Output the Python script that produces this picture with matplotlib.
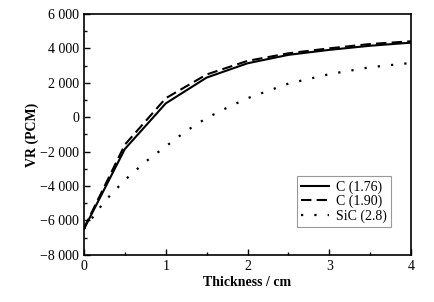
import matplotlib
matplotlib.use('Agg')
import matplotlib.pyplot as plt
from matplotlib.ticker import MultipleLocator, FuncFormatter

plt.rcParams['font.family'] = ['Liberation Serif', 'DejaVu Serif']
plt.rcParams['font.size'] = 10

# Data
thickness = [0, 0.5, 1.0, 1.5, 2.0, 2.5, 3.0, 3.5, 4.0]
vr_c176 = [-6500, -1850, 800, 2300, 3130, 3620, 3910, 4150, 4330]
vr_c190 = [-6450, -1600, 1100, 2480, 3270, 3710, 4000, 4250, 4410]
thickness_sic = [0, 0.25, 0.5, 0.75, 1.0, 1.25, 1.5, 1.75, 2.0, 2.5, 3.0, 3.5, 4.0]
vr_sic = [-6500, -4900, -3650, -2600, -1700, -800, -50, 550, 1100, 1950, 2500, 2900, 3150]

fig = plt.figure(figsize=(4.35, 3.02), dpi=100)
ax = fig.add_axes([0.193, 0.156, 0.752, 0.798])

ax.plot(thickness, vr_c176, color='black', lw=1.5, linestyle='-', label='C (1.76)')
ax.plot(thickness, vr_c190, color='black', lw=1.5, linestyle=(0, (5, 2.5)), label='C (1.90)')
ax.plot(thickness_sic, vr_sic, color='black', lw=1.6, linestyle=(0, (1, 5)), label='SiC (2.8)')

ax.set_xlim(0, 4)
ax.set_ylim(-8000, 6000)
ax.xaxis.set_major_locator(MultipleLocator(1))
ax.xaxis.set_minor_locator(MultipleLocator(0.5))
ax.yaxis.set_major_locator(MultipleLocator(2000))
ax.yaxis.set_minor_locator(MultipleLocator(1000))


def fmt(v, pos):
    s = f'{abs(int(round(v))):,}'.replace(',', ' ')
    return ('\u2212' + s) if v < 0 else s


ax.yaxis.set_major_formatter(FuncFormatter(fmt))
ax.tick_params(which='both', direction='in', top=False, right=False)
ax.tick_params(which='major', length=4, width=1)
ax.tick_params(which='minor', length=2.5, width=1)
for sp in ax.spines.values():
    sp.set_linewidth(1.2)

ax.set_xlabel('Thickness / cm', fontweight='bold', labelpad=2)
ax.set_ylabel('VR (PCM)', fontweight='bold', labelpad=1)

leg = ax.legend(loc='lower right', bbox_to_anchor=(0.96, 0.085), fancybox=False,
                edgecolor='gray', handlelength=2.0, borderpad=0.3,
                labelspacing=0.1, handletextpad=0.5)
leg.get_frame().set_linewidth(0.8)

fig.savefig('out.png', dpi=100)
